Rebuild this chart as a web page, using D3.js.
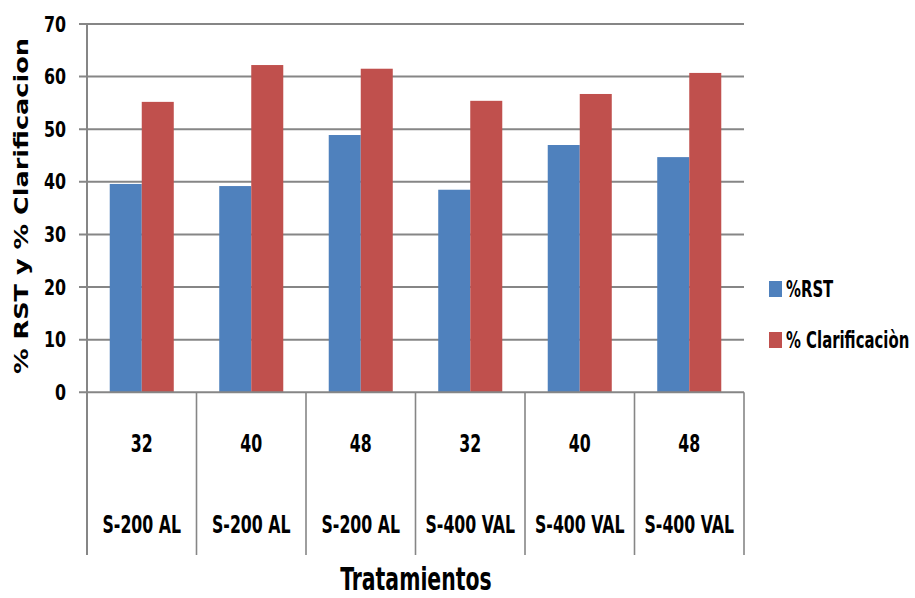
<!DOCTYPE html>
<html>
<head>
<meta charset="utf-8">
<script src="https://cdn.jsdelivr.net/npm/d3@7"></script>
<style>
  html, body { margin: 0; padding: 0; background: #fff; }
  svg { display: block; }
  .narrow { font-family: "Liberation Sans Narrow", "DejaVu Sans Condensed", "Liberation Sans", sans-serif; font-weight: bold; }
</style>
</head>
<body>
<svg id="chart" width="915" height="598"></svg>
<script>
// Treatment categories: two-level labels (time / product)
const times = ["32", "40", "48", "32", "40", "48"];
const products = ["S-200 AL", "S-200 AL", "S-200 AL", "S-400 VAL", "S-400 VAL", "S-400 VAL"];
const seriesNames = ["%RST", "% Clarificaciòn"];
const rstValues = [39.6, 39.2, 48.9, 38.5, 47.0, 44.7];
const clarValues = [55.2, 62.2, 61.5, 55.4, 56.7, 60.7];
const yTicks = [0, 10, 20, 30, 40, 50, 60, 70];
const colors = ["#4F81BD", "#C0504D"];

const svg = d3.select("#chart");
const plotLeft = 87, plotRight = 744, plotTop = 24, plotBottom = 392.3, axisFoot = 555;
const grid = "#868686";

// position a text at (x, y) and compress it horizontally for a condensed look
function place(sel, xf, yf, sx) {
  sel.attr("x", 0).attr("y", 0)
    .attr("transform", (d, i) => `translate(${typeof xf === "function" ? xf(d, i) : xf},${typeof yf === "function" ? yf(d, i) : yf}) scale(${sx},1)`);
}

const y = d3.scaleLinear().domain([0, 70]).range([plotBottom, plotTop]);
const x0 = d3.scaleBand().domain(d3.range(times.length)).range([plotLeft, plotRight]).paddingInner(0).paddingOuter(0);
const x1 = d3.scaleBand().domain(seriesNames).range([0, x0.bandwidth()]).paddingInner(0).paddingOuter(0.71);
const color = d3.scaleOrdinal().domain(seriesNames).range(colors);

// horizontal gridlines (also serve as tick marks left of the axis)
svg.append("g").selectAll("line").data(yTicks.filter(d => d > 0)).join("line")
  .attr("x1", plotLeft - 8).attr("x2", plotRight)
  .attr("y1", d => y(d)).attr("y2", d => y(d))
  .attr("stroke", grid).attr("stroke-width", 2);

// y tick labels
svg.append("g").selectAll("text").data(yTicks).join("text")
  .attr("class", "narrow")
  .attr("dy", "0.36em")
  .attr("text-anchor", "end")
  .attr("font-size", 21)
  .attr("fill", "#000")
  .text(d => d)
  .call(place, 66, d => y(d), 0.84);

// bars
const rows = times.map((t, i) => ({ i, vals: [rstValues[i], clarValues[i]] }));
const groups = svg.append("g").selectAll("g").data(rows).join("g")
  .attr("transform", d => `translate(${x0(d.i)},0)`);
groups.selectAll("rect").data(d => d.vals.map((v, k) => ({ name: seriesNames[k], v }))).join("rect")
  .attr("x", d => x1(d.name))
  .attr("width", x1.bandwidth())
  .attr("y", d => y(d.v))
  .attr("height", d => y(0) - y(d.v))
  .attr("fill", d => color(d.name));

// axis lines
svg.append("line").attr("x1", plotLeft).attr("x2", plotLeft).attr("y1", plotTop).attr("y2", axisFoot)
  .attr("stroke", grid).attr("stroke-width", 2);
svg.append("line").attr("x1", plotLeft - 8).attr("x2", plotRight).attr("y1", plotBottom).attr("y2", plotBottom)
  .attr("stroke", grid).attr("stroke-width", 2);

// category separators below the axis
const bounds = d3.range(times.length + 1).map(i => plotLeft + i * x0.step());
svg.append("g").selectAll("line").data(bounds.slice(1)).join("line")
  .attr("x1", d => d).attr("x2", d => d)
  .attr("y1", plotBottom).attr("y2", axisFoot)
  .attr("stroke", grid).attr("stroke-width", 1.6);

// two-level category labels
const mid = (d, i) => x0(i) + x0.bandwidth() / 2;
svg.append("g").selectAll("text").data(times).join("text")
  .attr("class", "narrow")
  .attr("dy", "0.36em")
  .attr("text-anchor", "middle")
  .attr("font-size", 24)
  .text(d => d)
  .call(place, mid, 443, 0.73);
svg.append("g").selectAll("text").data(products).join("text")
  .attr("class", "narrow")
  .attr("dy", "0.36em")
  .attr("text-anchor", "middle")
  .attr("font-size", 24)
  .text(d => d)
  .call(place, mid, 524, 0.73);

// axis titles
svg.append("text")
  .attr("class", "narrow")
  .attr("text-anchor", "middle")
  .attr("font-size", 31.5)
  .text("Tratamientos")
  .call(place, 416, 590, 0.72);

svg.append("text")
  .attr("transform", "translate(21,206) rotate(-90)")
  .attr("text-anchor", "middle").attr("dy", "0.35em")
  .attr("font-family", "'DejaVu Sans', 'Liberation Sans', sans-serif")
  .attr("font-weight", "bold").attr("font-size", 20)
  .attr("textLength", 336).attr("lengthAdjust", "spacingAndGlyphs")
  .text("% RST y % Clarificacion");

// legend
const legend = svg.append("g").selectAll("g").data(seriesNames).join("g")
  .attr("transform", (d, i) => `translate(769,${289 + i * 51})`);
legend.append("rect").attr("x", 0).attr("y", -8).attr("width", 13).attr("height", 16)
  .attr("fill", d => color(d));
legend.append("text")
  .attr("class", "narrow")
  .attr("dy", "0.36em")
  .attr("font-size", 23)
  .text(d => d)
  .call(place, 17, 0, 0.72);
</script>
</body>
</html>
